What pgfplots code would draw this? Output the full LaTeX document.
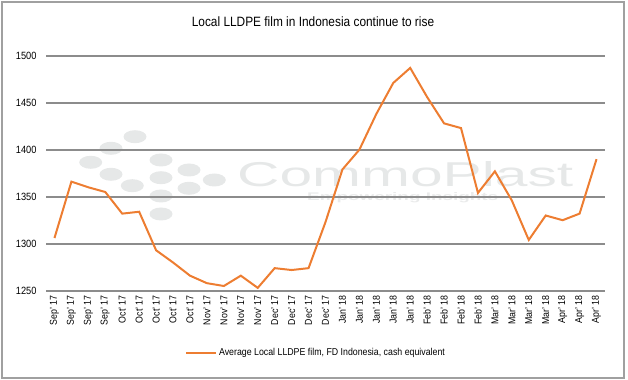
\documentclass[border=0pt]{standalone}
\usepackage{pgfplots}
\pgfplotsset{compat=1.18}
\usepackage{fontspec}
\setmainfont{Liberation Sans}[FakeStretch=0.88]
\newfontfamily\wmfont{Liberation Sans}
\newfontfamily\wmbold{Liberation Sans Bold}
\definecolor{lineor}{HTML}{ED7D31}
\definecolor{gridg}{HTML}{8C8C8C}
\definecolor{frameg}{HTML}{A0A0A0}
\definecolor{wm}{HTML}{E6E8E8}
\begin{document}
\begin{tikzpicture}
\useasboundingbox (0,0) rectangle (628bp,380bp);
\draw[frameg, line width=2bp] (1.8bp,2bp) rectangle (624.3bp,378.2bp);
% watermark
\foreach \x/\y in {90.7/217.7, 111/231.7, 135/243.3, 111/205.7, 132.3/194.3, 161/220, 161/202.3, 161/184, 161/166, 189/210, 189/191.7, 214.3/200}
  \fill[wm] (\x bp,\y bp) ellipse (11.5bp and 6.5bp);
\node[wm, inner sep=0, anchor=base west] at (237bp,193.3bp) {\resizebox{336bp}{25bp}{\wmfont CommoPlast}};
\node[wm!85, inner sep=0, anchor=north west] at (307bp,187.8bp) {\resizebox{191bp}{8bp}{\wmbold Empowering Insights}};
\node at (313bp,358bp) {\fontsize{13.5bp}{15bp}\selectfont Local LLDPE film in Indonesia continue to rise};
\begin{axis}[
  at={(46bp,89.3bp)}, anchor=south west, scale only axis,
  width=559bp, height=235bp,
  xmin=-0.5, xmax=32.5, ymin=1250, ymax=1500,
  ytick={1250,1300,...,1500},
  xtick={0,...,32},
  xticklabels={Sep' 17,Sep' 17,Sep' 17,Sep' 17,Oct' 17,Oct' 17,Oct' 17,Oct' 17,Oct' 17,Nov' 17,Nov' 17,Nov' 17,Nov' 17,Dec' 17,Dec' 17,Dec' 17,Dec' 17,Jan' 18,Jan' 18,Jan' 18,Jan' 18,Jan' 18,Feb' 18,Feb' 18,Feb' 18,Feb' 18,Mar' 18,Mar' 18,Mar' 18,Mar' 18,Apr' 18,Apr' 18,Apr' 18},
  axis line style={draw=none},
  major tick length=0pt,
  ymajorgrids,
  grid style={gridg, line width=1.6bp},
  /pgf/number format/assume math mode=true,
  /pgf/number format/1000 sep={},
  yticklabel style={font=\fontsize{10.5bp}{12bp}\selectfont, xshift=-6bp},
  xticklabel style={font=\fontsize{10bp}{12bp}\selectfont, rotate=90, anchor=east, xshift=-1bp},
  legend style={at={(0.483,-0.265)}, anchor=center, draw=none, fill=none, font=\fontsize{10bp}{12bp}\selectfont},
  legend image code/.code={\draw[#1] (0bp,0bp) -- (30bp,0bp);},
  clip=false,
]
\addplot[lineor, line width=2bp] coordinates {
(0,1306) (1,1366) (2,1360) (3,1355) (4,1332) (5,1334) (6,1293) (7,1280) (8,1266) (9,1258) (10,1255) (11,1266) (12,1253) (13,1274) (14,1272) (15,1274) (16,1323) (17,1379) (18,1400) (19,1438) (20,1471) (21,1487) (22,1456) (23,1428) (24,1423) (25,1354) (26,1377) (27,1346) (28,1304) (29,1330) (30,1325) (31,1332) (32,1390)
};
\addlegendentry{Average Local LLDPE film, FD Indonesia, cash equivalent}
\end{axis}
\end{tikzpicture}
\end{document}
